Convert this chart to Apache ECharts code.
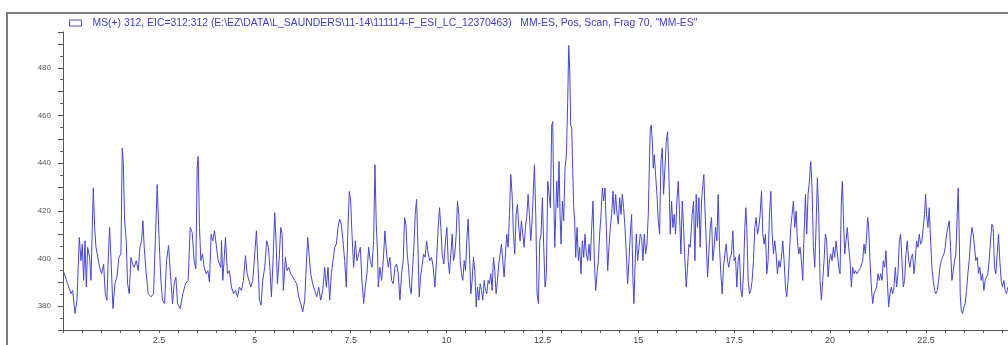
<!DOCTYPE html>
<html>
<head>
<meta charset="utf-8">
<script src="https://cdn.jsdelivr.net/npm/echarts@6/dist/echarts.min.js"></script>
<style>
  html, body { margin: 0; padding: 0; background: #fff; }
  #chart { width: 1008px; height: 345px; }
</style>
</head>
<body>
<div id="chart"></div>
<script>
// Extracted ion chromatogram, m/z 312 (acquisition time in minutes vs. counts)
const traceName = 'MS(+) 312, EIC=312:312 (E:\\EZ\\DATA\\L_SAUNDERS\\11-14\\111114-F_ESI_LC_12370463)   MM-ES, Pos, Scan, Frag 70, "MM-ES"';

const times = [
  0.000, 0.035, 0.120, 0.208, 0.252, 0.313, 0.365, 0.425, 0.469, 0.503, 0.538, 0.573, 0.608, 0.642, 0.694, 0.729,
  0.790, 0.825, 0.860, 0.903, 0.955, 1.007, 1.059, 1.103, 1.146, 1.181, 1.215, 1.250, 1.302, 1.354, 1.406, 1.458,
  1.510, 1.545, 1.571, 1.606, 1.649, 1.684, 1.727, 1.771, 1.814, 1.858, 1.910, 1.962, 2.005, 2.049, 2.083, 2.118,
  2.170, 2.222, 2.292, 2.361, 2.413, 2.457, 2.500, 2.552, 2.595, 2.648, 2.700, 2.752, 2.795, 2.856, 2.899, 2.943,
  2.986, 3.056, 3.125, 3.194, 3.264, 3.316, 3.368, 3.420, 3.464, 3.498, 3.524, 3.559, 3.594, 3.637, 3.680, 3.733,
  3.776, 3.819, 3.863, 3.906, 3.950, 3.993, 4.045, 4.115,
  4.132, 4.167, 4.236, 4.288, 4.340, 4.392, 4.444, 4.497, 4.549, 4.600, 4.653, 4.705, 4.757, 4.800, 4.844, 4.896,
  4.948, 5.000, 5.043, 5.087, 5.122, 5.165, 5.208, 5.260, 5.312, 5.356, 5.399, 5.434, 5.477, 5.521, 5.556, 5.590,
  5.634, 5.677, 5.712, 5.746, 5.799, 5.842, 5.885, 5.937, 5.990, 6.042, 6.094, 6.146, 6.198, 6.250, 6.302, 6.345,
  6.380, 6.415, 6.458, 6.510, 6.562, 6.615, 6.667, 6.719, 6.771, 6.823, 6.866, 6.910, 6.953, 6.997, 7.040, 7.083,
  7.127, 7.170, 7.214, 7.257, 7.300, 7.344, 7.387, 7.430, 7.465, 7.500, 7.535, 7.578, 7.622, 7.665, 7.708, 7.752,
  7.795, 7.839, 7.882, 7.925, 7.969, 8.012, 8.056, 8.099, 8.134, 8.168, 8.203,
  8.220, 8.264, 8.307, 8.351, 8.394, 8.437, 8.481, 8.524, 8.568, 8.611, 8.654, 8.698, 8.741, 8.785, 8.828, 8.871,
  8.906, 8.941, 8.976, 9.010, 9.045, 9.080, 9.115, 9.149, 9.184, 9.219, 9.253, 9.288, 9.323, 9.358, 9.401, 9.444,
  9.479, 9.522, 9.566, 9.609, 9.653, 9.696, 9.740, 9.783, 9.818, 9.852, 9.887, 9.930, 9.974, 10.009, 10.043, 10.078,
  10.113, 10.148, 10.182, 10.217, 10.252, 10.286, 10.321, 10.356, 10.390, 10.425, 10.460, 10.495, 10.529, 10.564, 10.599, 10.634,
  10.668, 10.703, 10.738, 10.773, 10.807, 10.842, 10.877, 10.911, 10.946, 10.981, 11.016, 11.050, 11.085, 11.120, 11.155, 11.189,
  11.224, 11.259, 11.293, 11.328, 11.363, 11.398, 11.432, 11.467, 11.502, 11.536, 11.571, 11.606, 11.641, 11.675, 11.710, 11.745,
  11.779, 11.814, 11.849, 11.884, 11.918, 11.953, 11.988, 12.023, 12.057, 12.092, 12.127, 12.161, 12.196, 12.231,
  12.292, 12.327, 12.361, 12.396, 12.431, 12.465, 12.500, 12.535, 12.570, 12.604, 12.639, 12.674, 12.709, 12.743, 12.769, 12.795,
  12.822, 12.848, 12.874, 12.900, 12.934, 12.960, 12.986, 13.021, 13.056, 13.091, 13.125, 13.160, 13.186, 13.212, 13.238, 13.264,
  13.290, 13.316, 13.342, 13.368, 13.403, 13.438, 13.472, 13.507, 13.542, 13.577, 13.611, 13.646, 13.681, 13.715, 13.750, 13.785,
  13.820, 13.854, 13.889, 13.924, 13.959, 13.993, 14.028, 14.063, 14.097, 14.132, 14.167, 14.202, 14.236, 14.271, 14.306, 14.340,
  14.375, 14.410, 14.445, 14.479, 14.514, 14.549, 14.583, 14.618, 14.653, 14.688, 14.722, 14.757, 14.792, 14.826, 14.861, 14.887,
  14.914, 14.948, 14.983, 15.018, 15.052, 15.087, 15.122, 15.156, 15.191, 15.226, 15.261, 15.287, 15.313, 15.339, 15.365, 15.391,
  15.417, 15.451, 15.486, 15.521, 15.556, 15.590, 15.625, 15.660, 15.695, 15.729, 15.764, 15.799, 15.833, 15.868, 15.903, 15.938,
  15.972, 16.007, 16.042, 16.076, 16.111, 16.146, 16.181, 16.215, 16.250, 16.285, 16.319, 16.354,
  16.406, 16.441, 16.476, 16.510, 16.545, 16.580, 16.614, 16.649, 16.684, 16.710, 16.736, 16.771, 16.806, 16.840, 16.875, 16.910,
  16.944, 16.979, 17.014, 17.049, 17.083, 17.118, 17.153, 17.188, 17.222, 17.257, 17.292, 17.326, 17.361, 17.396, 17.430, 17.465,
  17.500, 17.535, 17.569, 17.604, 17.639, 17.674, 17.708, 17.743, 17.778, 17.804, 17.830, 17.865, 17.900, 17.934, 17.969, 18.003,
  18.038, 18.073, 18.108, 18.142, 18.177, 18.212, 18.247, 18.281, 18.316, 18.351, 18.385, 18.420, 18.455, 18.490, 18.524, 18.559,
  18.594, 18.628, 18.663, 18.698, 18.733, 18.767, 18.802, 18.837, 18.871, 18.906, 18.941, 18.976, 19.010, 19.045, 19.080, 19.115,
  19.149, 19.184, 19.219, 19.253, 19.288, 19.323, 19.358, 19.392, 19.427, 19.462, 19.497, 19.531, 19.566, 19.601, 19.635, 19.670,
  19.705, 19.740, 19.774, 19.809, 19.844, 19.878, 19.913, 19.948, 19.983, 20.017, 20.052, 20.087, 20.122, 20.156, 20.191, 20.226,
  20.260, 20.295, 20.321, 20.347, 20.382, 20.417, 20.451, 20.486,
  20.521, 20.556, 20.590, 20.625, 20.660, 20.695, 20.747, 20.799, 20.851, 20.886, 20.920, 20.955, 20.981, 21.007, 21.042, 21.077,
  21.111, 21.146, 21.181, 21.215, 21.250, 21.285, 21.320, 21.354, 21.389, 21.424, 21.458, 21.493, 21.528, 21.563, 21.597, 21.632,
  21.667, 21.702, 21.736, 21.771, 21.806, 21.840, 21.875, 21.910, 21.944, 21.979, 22.014, 22.049, 22.083, 22.118, 22.153, 22.188,
  22.222, 22.257, 22.292, 22.326, 22.361, 22.396, 22.430, 22.465, 22.491, 22.517, 22.552, 22.587, 22.622, 22.656, 22.691, 22.726,
  22.760, 22.795, 22.830, 22.865, 22.899, 22.934, 22.969, 23.004, 23.038, 23.073, 23.108, 23.142, 23.177, 23.212, 23.247, 23.281,
  23.316, 23.342, 23.368, 23.394, 23.420, 23.455, 23.490, 23.524, 23.559, 23.594, 23.628, 23.663, 23.698, 23.733, 23.767, 23.802,
  23.837, 23.872, 23.906, 23.941, 23.976, 24.010, 24.045, 24.080, 24.115, 24.149, 24.184, 24.219, 24.253, 24.288, 24.323, 24.358,
  24.392, 24.427, 24.462, 24.497, 24.531, 24.566, 24.601, 24.635
];

const counts = [
  395.0, 393.6, 389.4, 385.2, 386.6, 376.9, 382.5, 408.8, 399.1, 406.0, 390.8, 407.4, 388.0, 404.7, 400.5, 390.8,
  429.6, 413.0, 404.7, 404.0, 396.3, 393.6, 397.7, 385.2, 382.5, 400.5, 413.0, 400.5, 379.0, 389.4, 392.2, 400.5,
  401.9, 446.3, 440.7, 415.8, 407.4, 389.4, 385.2, 400.5, 397.7, 396.3, 399.1, 394.9, 404.7, 407.4, 415.8, 404.7,
  393.6, 385.2, 383.9, 385.2, 410.2, 431.0, 410.2, 390.8, 382.5, 381.1, 399.1, 405.4, 394.9, 381.1, 389.4, 392.2,
  381.1, 379.0, 385.2, 389.4, 390.8, 413.0, 410.9, 399.1, 395.6, 437.9, 442.8, 413.0, 399.1, 401.9, 396.3, 393.6,
  394.9, 390.1, 410.2, 407.4, 411.6, 406.0, 399.1, 396.3,
  407.4, 390.8, 408.8, 393.6, 394.9, 388.0, 385.2, 386.6, 383.9, 388.0, 386.6, 390.8, 401.2, 393.6, 392.9, 388.0,
  390.8, 401.9, 411.6, 396.3, 382.5, 380.4, 390.8, 396.3, 407.4, 404.7, 394.9, 383.9, 399.1, 419.2, 407.4, 389.4,
  399.1, 413.0, 410.2, 386.6, 400.5, 394.9, 396.3, 393.6, 392.2, 390.8, 389.4, 383.9, 381.1, 377.6, 382.5, 397.7,
  408.8, 401.9, 393.6, 389.4, 386.6, 383.9, 388.0, 382.5, 386.6, 396.3, 388.0, 396.3, 382.5, 393.6, 399.1, 404.7,
  406.0, 413.0, 416.5, 414.4, 407.4, 399.1, 388.0, 413.0, 428.2, 424.1, 410.2, 396.3, 407.4, 399.1, 401.9, 404.7,
  390.8, 381.1, 388.0, 393.6, 404.7, 399.1, 396.3, 407.4, 439.3, 414.4, 401.9,
  388.0, 396.3, 390.8, 399.1, 411.6, 401.9, 396.3, 400.5, 390.8, 389.4, 396.3, 397.7, 393.6, 382.5, 393.6, 399.1,
  417.2, 414.4, 401.9, 396.3, 388.0, 385.2, 396.3, 404.7, 418.5, 424.8, 406.0, 383.9, 392.2, 396.3, 401.9, 400.5,
  407.4, 401.9, 399.1, 400.5, 396.3, 388.0, 399.1, 413.0, 421.3, 413.0, 401.9, 397.7, 407.4, 413.0, 399.1, 393.6,
  401.9, 410.2, 399.1, 401.9, 410.2, 424.1, 418.5, 399.1, 393.6, 390.8, 399.1, 394.9, 407.4, 416.5, 401.9, 385.2,
  390.8, 400.5, 394.9, 379.7, 388.0, 382.5, 389.4, 386.6, 382.5, 390.8, 386.6, 385.2, 390.8, 389.4, 393.6, 386.6,
  400.5, 394.9, 385.2, 390.8, 397.7, 401.9, 406.0, 399.1, 392.2, 401.9, 410.2, 404.7, 418.5, 435.2, 426.9, 410.2,
  401.9, 418.5, 422.7, 413.0, 407.4, 415.8, 410.2, 404.7, 413.0, 417.2, 426.9, 418.5, 407.4, 415.8,
  439.3, 418.5, 385.2, 381.1, 407.4, 410.2, 425.5, 404.7, 388.0, 393.6, 432.4, 426.9, 421.3, 456.0, 457.4, 426.9,
  404.7, 418.5, 432.4, 421.3, 440.7, 418.5, 406.0, 424.1, 415.8, 437.9, 443.5, 465.7, 489.3, 479.6, 456.0, 454.6,
  437.9, 421.3, 415.8, 400.5, 413.0, 399.1, 404.7, 393.6, 407.4, 400.5, 410.2, 401.9, 399.1, 406.0, 399.1, 413.0,
  424.1, 399.1, 386.6, 393.6, 399.1, 410.2, 418.5, 429.6, 424.1, 429.6, 413.0, 394.9, 404.7, 413.0, 418.5, 428.2,
  418.5, 426.9, 418.5, 414.4, 425.5, 418.5, 426.9, 421.3, 413.0, 401.9, 389.4, 399.1, 410.2, 418.5, 390.8, 381.1,
  396.3, 410.2, 399.1, 404.7, 410.2, 408.8, 399.1, 410.2, 401.9, 406.0, 418.5, 437.9, 454.6, 456.0, 449.0, 437.9,
  443.5, 435.2, 426.9, 415.8, 410.2, 440.7, 446.3, 426.9, 437.9, 449.0, 453.2, 435.2, 410.2, 424.1, 413.0, 418.5,
  410.2, 424.1, 432.4, 418.5, 401.9, 424.1, 413.0, 399.1, 388.0, 396.3, 406.0, 404.7,
  418.5, 424.1, 399.1, 426.9, 413.0, 425.5, 404.7, 424.1, 431.0, 435.2, 421.3, 407.4, 392.2, 401.9, 413.0, 417.2,
  399.1, 404.7, 413.0, 407.4, 426.9, 404.7, 393.6, 385.2, 396.3, 401.9, 406.0, 399.1, 396.3, 400.5, 401.9, 411.6,
  399.1, 400.5, 388.0, 399.1, 401.9, 386.6, 383.9, 393.6, 413.0, 421.3, 413.0, 390.8, 385.2, 386.6, 390.8, 399.1,
  413.0, 417.2, 410.2, 413.0, 418.5, 428.2, 410.2, 406.0, 410.2, 393.6, 399.1, 418.5, 428.2, 410.2, 401.9, 407.4,
  401.9, 393.6, 399.1, 396.3, 400.5, 407.4, 399.1, 388.0, 383.9, 390.8, 401.9, 413.0, 418.5, 424.1, 413.0, 419.9,
  407.4, 401.9, 404.7, 399.1, 390.8, 410.2, 426.9, 410.2, 426.9, 432.4, 440.7, 429.6, 404.7, 396.3, 413.0, 433.8,
  418.5, 390.8, 382.5, 390.8, 399.1, 410.2, 407.4, 392.2, 399.1, 401.9, 399.1, 404.7, 400.5, 407.4, 401.9, 396.3,
  393.6, 424.1, 432.4, 418.5, 401.9, 407.4, 413.0, 404.7,
  399.1, 388.0, 396.3, 393.6, 394.9, 393.6, 394.9, 396.3, 399.1, 406.0, 401.9, 410.2, 417.2, 413.0, 399.1, 388.0,
  381.1, 385.2, 386.6, 388.0, 393.6, 390.8, 393.6, 390.8, 399.1, 396.3, 403.3, 390.8, 379.7, 385.2, 388.0, 385.2,
  388.0, 396.3, 388.0, 393.6, 407.4, 410.2, 399.1, 388.0, 390.8, 401.9, 407.4, 399.1, 396.3, 400.5, 401.9, 393.6,
  399.1, 407.4, 404.7, 410.2, 406.0, 407.4, 413.0, 418.5, 426.9, 418.5, 413.0, 421.3, 407.4, 396.3, 390.8, 386.6,
  385.2, 386.6, 390.8, 396.3, 399.1, 400.5, 401.9, 404.7, 410.2, 413.0, 415.8, 404.7, 390.8, 390.8, 399.1, 401.9,
  418.5, 429.6, 410.2, 385.2, 378.3, 376.9, 379.7, 381.1, 386.6, 393.6, 399.1, 407.4, 413.0, 410.2, 404.7, 399.1,
  400.5, 393.6, 396.3, 390.8, 393.6, 386.6, 390.8, 390.8, 393.6, 399.1, 407.4, 414.4, 413.0, 396.3, 393.6, 401.9,
  410.2, 399.1, 390.8, 388.0, 390.8, 386.6, 385.2, 388.0
];

// axis labelling
const timeLabelStep = 2.5;
const countLabelStep = 20;

const points = times.map((t, i) => [t, counts[i]]);

const chart = echarts.init(document.getElementById('chart'), null, { renderer: 'canvas' });

const isMultiple = (v, step) => Math.abs(v / step - Math.round(v / step)) < 1e-6;

chart.setOption({
  animation: false,
  backgroundColor: '#ffffff',
  textStyle: { fontFamily: 'Liberation Sans, Arial, sans-serif' },
  legend: {
    left: 64,
    top: 13,
    itemWidth: 12,
    itemHeight: 6,
    itemGap: 0,
    selectedMode: false,
    icon: 'rect',
    data: [{
      name: traceName,
      itemStyle: { color: '#ffffff', borderColor: '#4a4ae0', borderWidth: 1 }
    }],
    textStyle: { fontSize: 10.4, color: '#3c3cd8', padding: [0, 0, 0, 6] }
  },
  graphic: [{
    type: 'polyline',
    silent: true,
    shape: { points: [[7, 360], [7, 13], [1010, 13]] },
    style: { stroke: '#7a7a7a', lineWidth: 2, fill: null }
  }],
  grid: { left: 63, right: 0, top: 32, bottom: 12, containLabel: false },
  xAxis: {
    type: 'value',
    min: 0,
    max: 24.64,
    interval: 0.5,
    axisLine: { show: true, lineStyle: { color: '#555', width: 1 } },
    axisTick: { show: true, length: 3, lineStyle: { color: '#555' } },
    splitLine: { show: false },
    axisLabel: {
      fontSize: 9,
      color: '#444',
      margin: 6,
      showMaxLabel: false,
      formatter: v => (v > 0 && isMultiple(v, timeLabelStep)) ? String(v) : ''
    }
  },
  yAxis: {
    type: 'value',
    min: 370,
    max: 495,
    interval: 10,
    axisLine: { show: true, lineStyle: { color: '#555', width: 1 } },
    axisTick: { show: true, length: 5, lineStyle: { color: '#555' } },
    minorTick: { show: true, splitNumber: 2, length: 3, lineStyle: { color: '#666' } },
    splitLine: { show: false },
    axisLabel: {
      fontSize: 8,
      color: '#555',
      margin: 12,
      showMaxLabel: false,
      formatter: v => isMultiple(v, countLabelStep) ? String(v) : ''
    }
  },
  series: [{
    name: traceName,
    type: 'line',
    data: points,
    showSymbol: false,
    symbol: 'none',
    clip: true,
    lineStyle: { color: '#4646dc', width: 1 },
    itemStyle: { color: '#4646dc' }
  }]
});
</script>
</body>
</html>
